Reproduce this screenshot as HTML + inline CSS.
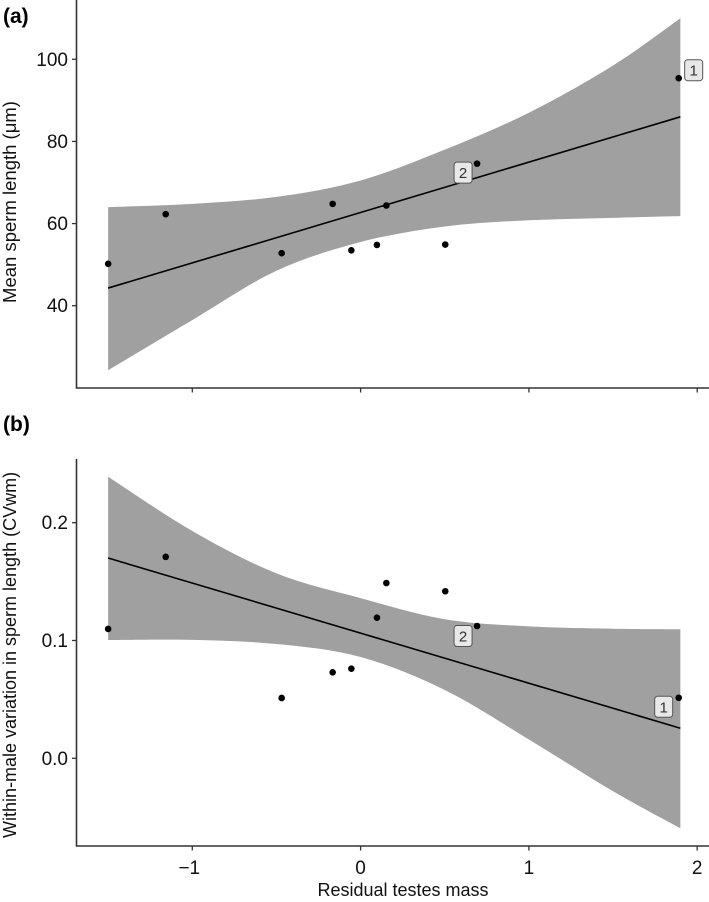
<!DOCTYPE html>
<html><head><meta charset="utf-8"><style>
html,body{margin:0;padding:0;background:#fff;}
svg{display:block;font-family:"Liberation Sans",Arial,sans-serif;}
</style></head><body>
<svg id="fig" width="709" height="902" viewBox="0 0 709 902" xmlns="http://www.w3.org/2000/svg">
<g id="pa"></g>
<g id="pb"></g>
<text x="3" y="23" font-size="21" font-weight="bold">(a)</text>
<text x="3" y="431" font-size="21" font-weight="bold">(b)</text>
<text transform="translate(16,202) rotate(-90)" text-anchor="middle" font-size="18.5" fill="#111">Mean sperm length (μm)</text>
<text transform="translate(16,655) rotate(-90)" text-anchor="middle" font-size="18" fill="#111">Within-male variation in sperm length (CVwm)</text>
<text x="403" y="896" text-anchor="middle" font-size="18" fill="#111">Residual testes mass</text>
</svg>
<script>
// shared x data
const xs = [-1.5, -1.158, -0.469, -0.166, -0.055, 0.097, 0.153, 0.503, 0.692, 1.89];
// panel a data
const yA = [50.2, 62.3, 52.8, 64.8, 53.5, 54.8, 64.4, 54.9, 74.6, 95.4];
const bandX = [-1.5, -1.0, -0.5, 0, 0.5, 1.0, 1.5, 1.9];
const bandAHi = [64.0, 64.8, 66.5, 70.5, 78, 87, 98.5, 110];
const bandALo = [24.3, 36.5, 48.5, 55.5, 59.3, 60.8, 61.4, 61.8];
const lineX = [-1.5, 1.9];
const lineA = [44.3, 86.0];
const ticksA = [40, 60, 80, 100];
// panel b data
const yB = [0.1098, 0.171, 0.0512, 0.0730, 0.0761, 0.1194, 0.1488, 0.1418, 0.1123, 0.0514];
const bandBHi = [0.239, 0.193, 0.157, 0.136, 0.118, 0.112, 0.110, 0.1095];
const bandBLo = [0.1004, 0.1005, 0.097, 0.086, 0.058, 0.016, -0.028, -0.0594];
const lineB = [0.170, 0.0255];
const ticksB = [0.0, 0.1, 0.2];
const ticksX = [-1, 0, 1, 2];
// labelled species: [index, label]
const labelIdx = [9, 8];
const labelTxt = ['1', '2'];

const NS = 'http://www.w3.org/2000/svg';
const X = v => 360.6 + v * 168.3;
const YA = v => 59.3 + (100 - v) * 4.107;
const YB = v => 758.3 - v * 1178;

function mk(parent, tag, attrs) {
  const e = document.createElementNS(NS, tag);
  for (const k in attrs) e.setAttribute(k, attrs[k]);
  parent.appendChild(e);
  return e;
}
function smoothPath(pts) {
  let d = 'M' + pts[0][0] + ',' + pts[0][1];
  for (let i = 0; i < pts.length - 1; i++) {
    const p0 = pts[Math.max(0, i - 1)], p1 = pts[i], p2 = pts[i + 1], p3 = pts[Math.min(pts.length - 1, i + 2)];
    const c1 = [p1[0] + (p2[0] - p0[0]) / 6, p1[1] + (p2[1] - p0[1]) / 6];
    const c2 = [p2[0] - (p3[0] - p1[0]) / 6, p2[1] - (p3[1] - p1[1]) / 6];
    d += ' C' + c1 + ' ' + c2 + ' ' + p2;
  }
  return d;
}
function panel(g, Y, ys, hi, lo, lineY, ticks, fmt, top, bottom, showXLabels, labelOffsets) {
  const up = bandX.map((x, i) => [X(x), Y(hi[i])]);
  const dn = bandX.map((x, i) => [X(x), Y(lo[i])]).reverse();
  const dUp = smoothPath(up);
  const dDn = smoothPath(dn).replace(/^M/, 'L');
  const band = mk(g, 'path', {d: dUp + ' ' + dDn + ' Z', fill: '#a0a0a0', stroke: 'none'});
  
  
  const ln = mk(g, 'line', {x1: X(lineX[0]), y1: Y(lineY[0]), x2: X(lineX[1]), y2: Y(lineY[1]), stroke: '#000', 'stroke-width': 1.6});
  
  
  xs.forEach((x, i) => {
    const c = mk(g, 'circle', {cx: X(x), cy: Y(ys[i]), r: 3.3, fill: '#000'});
    
    
  });
  labelIdx.forEach((idx, j) => {
    const o = labelOffsets[j];
    const cx = X(xs[idx]) + o[0], cy = Y(ys[idx]) + o[1];
    const lg = mk(g, 'g', {});
    
    
    mk(lg, 'rect', {x: cx - 9, y: cy - 10.5, width: 18, height: 21, rx: 3, fill: '#e8e8e8', stroke: '#555', 'stroke-width': 1});
    const t = mk(lg, 'text', {x: cx, y: cy + 5.5, 'text-anchor': 'middle', 'font-size': 15, fill: '#333'});
    t.textContent = labelTxt[j];
  });
  const ax = mk(g, 'path', {d: 'M76.5,' + top + ' V' + bottom + ' H709', fill: 'none', stroke: '#333', 'stroke-width': 1.6});
  
  
  ticks.forEach(v => {
    mk(g, 'line', {x1: 72, x2: 76.5, y1: Y(v), y2: Y(v), stroke: '#333', 'stroke-width': 1.3});
    const t = mk(g, 'text', {x: 68, y: Y(v) + 6.5, 'text-anchor': 'end', 'font-size': 19, fill: '#111'});
    
    
    t.textContent = fmt(v);
  });
  ticksX.forEach(v => {
    mk(g, 'line', {x1: X(v), x2: X(v), y1: bottom, y2: bottom + 4.5, stroke: '#333', 'stroke-width': 1.3});
    if (showXLabels) {
      const t = mk(g, 'text', {x: X(v) - (v < 0 ? 3 : 0), y: bottom + 28, 'text-anchor': 'middle', 'font-size': 19, fill: '#111'});
      
      
      t.textContent = v < 0 ? '\u2212' + Math.abs(v) : String(v);
    }
  });
}
panel(document.getElementById('pa'), YA, yA, bandAHi, bandALo, lineA, ticksA, v => String(v), 0, 388, false, [[15, -8], [-14, 9]]);
panel(document.getElementById('pb'), YB, yB, bandBHi, bandBLo, lineB, ticksB, v => v.toFixed(1), 459, 846, true, [[-15, 9], [-14, 10]]);
</script>
</body></html>
